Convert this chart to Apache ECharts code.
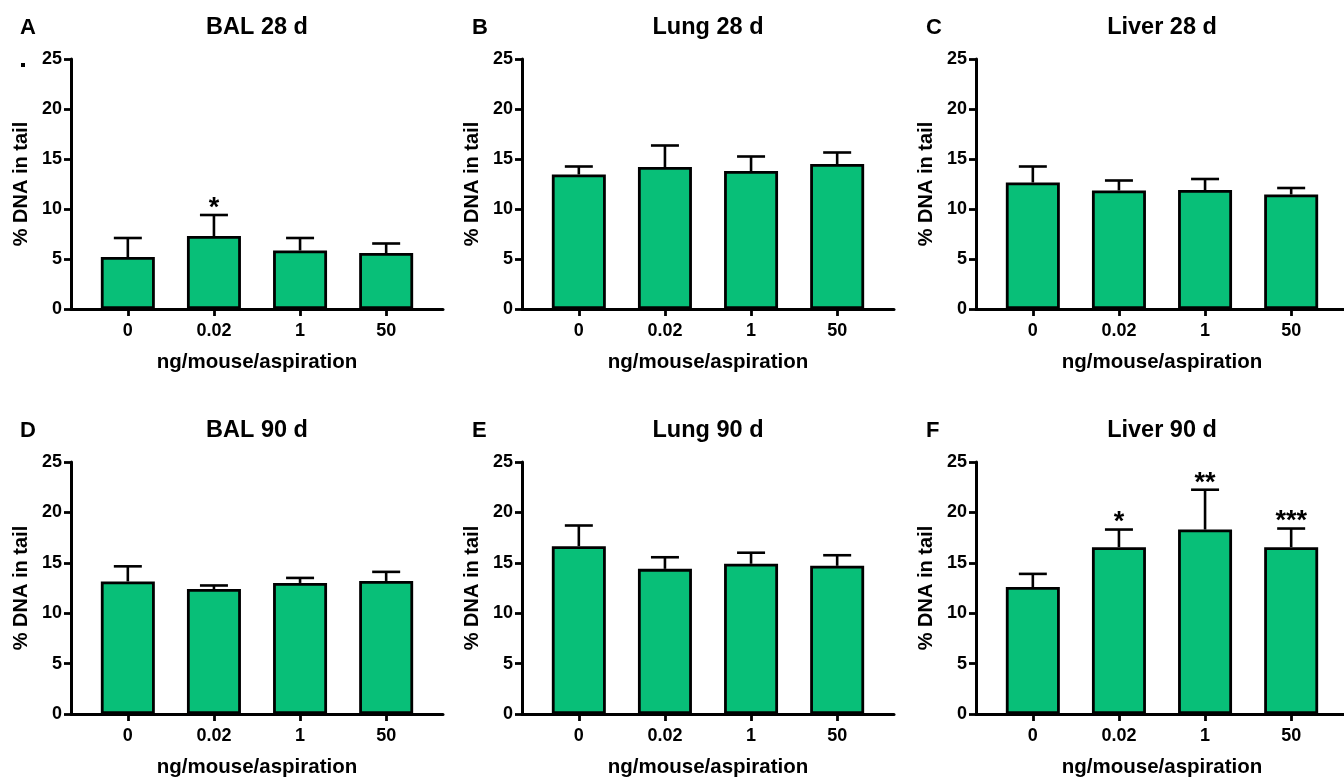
<!DOCTYPE html>
<html>
<head>
<meta charset="utf-8">
<script src="https://cdn.jsdelivr.net/npm/echarts@6/dist/echarts.min.js"></script>
<style>
  html, body { margin: 0; padding: 0; background: #fff; }
  #chart { width: 1344px; height: 779px; }
</style>
</head>
<body>
<div id="chart"></div>
<script>
// dose groups (ng/mouse/aspiration)
const categories = ['0', '0.02', '1', '50'];

// % DNA in tail, mean and upper error (SEM) per panel
const balMean28 = [5.2, 7.3, 5.85, 5.6];
const balErr28 = [1.9, 2.1, 1.25, 0.95];
const balSig28 = ['', '*', '', ''];

const lungMean28 = [13.45, 14.2, 13.8, 14.5];
const lungErr28 = [0.8, 2.15, 1.45, 1.15];
const lungSig28 = ['', '', '', ''];

const liverMean28 = [12.65, 11.85, 11.9, 11.45];
const liverErr28 = [1.6, 1.0, 1.1, 0.65];
const liverSig28 = ['', '', '', ''];

const balMean90 = [13.15, 12.4, 13.0, 13.2];
const balErr90 = [1.5, 0.35, 0.5, 0.9];
const balSig90 = ['', '', '', ''];

const lungMean90 = [16.65, 14.4, 14.9, 14.7];
const lungErr90 = [2.05, 1.15, 1.1, 1.05];
const lungSig90 = ['', '', '', ''];

const liverMean90 = [12.6, 16.55, 18.3, 16.55];
const liverErr90 = [1.3, 1.75, 3.95, 1.85];
const liverSig90 = ['', '*', '**', '***'];

const panels = [
  { letter: 'A', title: 'BAL 28 d', mean: balMean28, err: balErr28, sig: balSig28 },
  { letter: 'B', title: 'Lung 28 d', mean: lungMean28, err: lungErr28, sig: lungSig28 },
  { letter: 'C', title: 'Liver 28 d', mean: liverMean28, err: liverErr28, sig: liverSig28 },
  { letter: 'D', title: 'BAL 90 d', mean: balMean90, err: balErr90, sig: balSig90 },
  { letter: 'E', title: 'Lung 90 d', mean: lungMean90, err: lungErr90, sig: lungSig90 },
  { letter: 'F', title: 'Liver 90 d', mean: liverMean90, err: liverErr90, sig: liverSig90 },
];

const FONT = '"Liberation Sans", Arial, sans-serif';
const GREEN = '#08bf78';
const colLeft = [71, 522, 976];
const letterLeft = [20, 472, 926];
const rowTop = [59, 462];
const rowHeight = [250, 252];
const rowTitleY = [28, 431];
const W = 372;

const chart = echarts.init(document.getElementById('chart'));

const grid = [], xAxis = [], yAxis = [], series = [], graphic = [];

panels.forEach((p, k) => {
  const col = k % 3, row = Math.floor(k / 3);
  grid.push({
    left: colLeft[col], top: rowTop[row], width: W, height: rowHeight[row],
    containLabel: false, outerBoundsMode: 'none'
  });
  xAxis.push({
    gridIndex: k,
    type: 'value',
    min: -0.66,
    max: 3.66,
    splitLine: { show: false },
    axisLine: { onZero: false, lineStyle: { color: '#000', width: 3 } },
    axisTick: { customValues: [0, 1, 2, 3], length: 7, lineStyle: { color: '#000', width: 2.8 } },
    axisLabel: {
      customValues: [0, 1, 2, 3],
      formatter: v => categories[v],
      margin: 13,
      color: '#000', fontSize: 18, fontWeight: 'bold', fontFamily: FONT
    },
    name: 'ng/mouse/aspiration',
    nameLocation: 'middle',
    nameGap: 43,
    nameTextStyle: { color: '#000', fontSize: 20.5, fontWeight: 'bold', fontFamily: FONT }
  });
  yAxis.push({
    gridIndex: k,
    type: 'value',
    min: 0,
    max: 25,
    interval: 5,
    splitLine: { show: false },
    axisLine: { show: true, onZero: false, lineStyle: { color: '#000', width: 3 } },
    axisTick: { show: true, length: 7, lineStyle: { color: '#000', width: 2.8 } },
    axisLabel: { margin: 9, color: '#000', fontSize: 18, fontWeight: 'bold', fontFamily: FONT },
    name: '% DNA in tail',
    nameLocation: 'middle',
    nameGap: 40,
    nameTextStyle: { color: '#000', fontSize: 20, fontWeight: 'bold', fontFamily: FONT }
  });
  series.push({
    type: 'bar',
    xAxisIndex: k,
    yAxisIndex: k,
    barWidth: 54,
    data: p.mean.map((v, i) => [i, v]),
    itemStyle: { color: GREEN, borderColor: '#000', borderWidth: 2.8 },
    silent: true
  });
  // error bars (upper only) with significance stars
  series.push({
    type: 'custom',
    xAxisIndex: k,
    yAxisIndex: k,
    z: 3,
    silent: true,
    data: p.mean.map((v, i) => [i, v, p.err[i]]),
    encode: { x: 0, y: 1 },
    renderItem: (params, api) => {
      const x = api.value(0), m = api.value(1), e = api.value(2);
      const base = api.coord([x, m]);
      const top = api.coord([x, m + e]);
      const stroke = { stroke: '#000', lineWidth: 2.6 };
      const children = [
        { type: 'line', shape: { x1: base[0], y1: base[1], x2: top[0], y2: top[1] }, style: stroke },
        { type: 'line', shape: { x1: top[0] - 14, y1: top[1], x2: top[0] + 14, y2: top[1] }, style: stroke }
      ];
      const s = p.sig[params.dataIndex];
      if (s) {
        children.push({
          type: 'text', x: top[0], y: top[1] + 7,
          style: { text: s, align: 'center', verticalAlign: 'bottom', font: 'bold 27px ' + FONT, fill: '#000' }
        });
      }
      return { type: 'group', children };
    }
  });
  graphic.push({
    type: 'text', x: colLeft[col] + W / 2, y: rowTitleY[row],
    style: { text: p.title, align: 'center', verticalAlign: 'middle', font: 'bold 23.5px ' + FONT, fill: '#000' }
  });
  graphic.push({
    type: 'text', x: letterLeft[col], y: rowTitleY[row],
    style: { text: p.letter, align: 'left', verticalAlign: 'middle', font: 'bold 22px ' + FONT, fill: '#000' }
  });
});

// stray dot next to panel A's top tick label
graphic.push({ type: 'rect', shape: { x: 21, y: 63, width: 4, height: 4 }, style: { fill: '#000' } });

chart.setOption({
  animation: false,
  backgroundColor: '#fff',
  grid, xAxis, yAxis, series, graphic
});
</script>
</body>
</html>
